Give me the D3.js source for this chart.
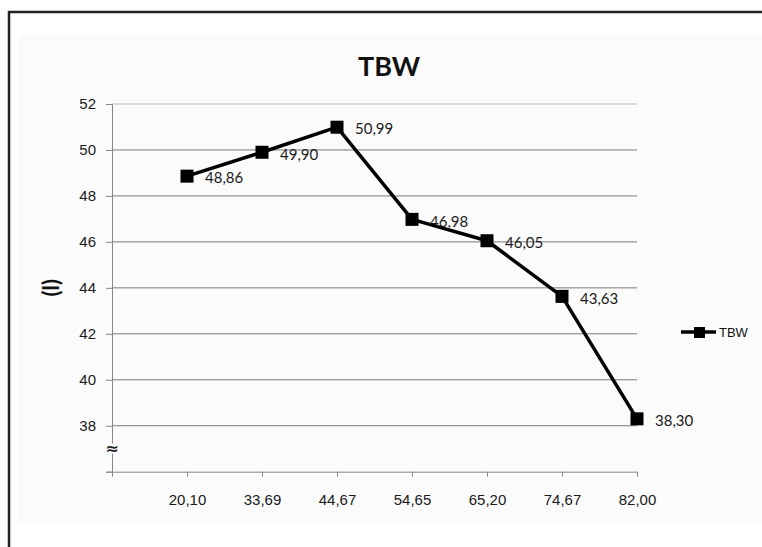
<!DOCTYPE html>
<html>
<head>
<meta charset="utf-8">
<script src="https://cdn.jsdelivr.net/npm/d3@7"></script>
<style>
  body { margin: 0; background: #fff; }
  svg { display: block; font-family: Lato, "Open Sans", sans-serif; }
</style>
</head>
<body>
<div id="chart"></div>
<script>
// Data
const xLabels = ["20,10", "33,69", "44,67", "54,65", "65,20", "74,67", "82,00"];
const tbw = [48.86, 49.90, 50.99, 46.98, 46.05, 43.63, 38.30];
const yTicks = [36, 38, 40, 42, 44, 46, 48, 50, 52];

const width = 762;
const height = 547;
const plot = { left: 112, right: 637, top: 104, bottom: 471.7 };

const svg = d3.select("#chart")
    .append("svg")
    .attr("width", width)
    .attr("height", height);

// outer frame and chart area
svg.append("rect")
    .attr("x", 18).attr("y", 34)
    .attr("width", width - 18).attr("height", 523 - 34)
    .attr("fill", "#fbfbfb");
svg.append("path")
    .attr("d", `M9,${height} V12 H${width}`)
    .attr("fill", "none")
    .attr("stroke", "#222")
    .attr("stroke-width", 2.5);

// scales
const xScale = d3.scaleLinear()
    .domain([0, xLabels.length])
    .range([plot.left, plot.right]);

const yScale = d3.scaleLinear()
    .domain([36, 52])
    .range([plot.bottom, plot.top]);

// horizontal grid lines
svg.append("g")
    .selectAll("line")
    .data(yTicks.filter(d => d > 36))
    .enter()
    .append("line")
    .attr("x1", plot.left)
    .attr("x2", plot.right)
    .attr("y1", d => yScale(d))
    .attr("y2", d => yScale(d))
    .attr("stroke", d => d === 52 ? "#bbb" : "#7a7a7a")
    .attr("stroke-width", 1);

// y axis
const yAxis = d3.axisLeft(yScale)
    .tickValues(yTicks)
    .tickSize(6)
    .tickPadding(10)
    .tickFormat(d => d === 36 ? "" : d);
const gy = svg.append("g")
    .attr("transform", `translate(${plot.left},0)`)
    .call(yAxis);
gy.select(".domain").attr("stroke", "#888");
gy.selectAll(".tick line").attr("stroke", "#888");
gy.selectAll("text")
    .style("font-size", "15px")
    .style("fill", "#1a1a1a");

// x axis
const xAxis = d3.axisBottom(xScale)
    .tickValues(d3.range(0, xLabels.length + 1))
    .tickSize(5)
    .tickSizeOuter(0)
    .tickPadding(18)
    .tickFormat(i => i === 0 ? "" : xLabels[i - 1]);
const gx = svg.append("g")
    .attr("transform", `translate(0,${plot.bottom})`)
    .call(xAxis);
gx.select(".domain").attr("stroke", "#888");
gx.selectAll(".tick line").attr("stroke", "#888");
gx.selectAll("text")
    .style("font-size", "15px")
    .style("fill", "#1a1a1a");

// axis break symbol
svg.append("rect")
    .attr("x", plot.left - 6)
    .attr("y", yScale(37) - 5)
    .attr("width", 12)
    .attr("height", 10)
    .attr("fill", "#fbfbfb");
svg.append("text")
    .attr("x", plot.left)
    .attr("y", yScale(37))
    .attr("dy", "0.35em")
    .style("text-anchor", "middle")
    .style("font-family", "'DejaVu Sans', sans-serif")
    .style("font-size", "16px")
    .style("font-weight", "bold")
    .style("fill", "#222")
    .text("≈");

// line
const lineGenerator = d3.line()
    .x((d, i) => xScale(i + 1))
    .y(d => yScale(d));

svg.append("path")
    .datum(tbw)
    .attr("d", lineGenerator)
    .attr("fill", "none")
    .attr("stroke", "#000")
    .attr("stroke-width", 3.5)
    .attr("stroke-linejoin", "round");

// markers
const m = 13;
svg.append("g")
    .selectAll("rect")
    .data(tbw)
    .enter()
    .append("rect")
    .attr("x", (d, i) => xScale(i + 1) - m / 2)
    .attr("y", d => yScale(d) - m / 2)
    .attr("width", m)
    .attr("height", m)
    .attr("fill", "#000");

// data labels
svg.append("g")
    .selectAll("text")
    .data(tbw)
    .enter()
    .append("text")
    .attr("x", (d, i) => xScale(i + 1) + 18)
    .attr("y", d => yScale(d) + 2)
    .attr("dy", "0.35em")
    .style("font-size", "15px")
    .style("fill", "#1a1a1a")
    .text(d => d.toFixed(2).replace(".", ","));

// title
svg.append("text")
    .attr("x", 389)
    .attr("y", 76)
    .style("text-anchor", "middle")
    .style("font-size", "27px")
    .style("font-weight", "bold")
    .style("fill", "#111")
    .text("TBW");

// y axis label
svg.append("text")
    .attr("transform", `translate(51,${yScale(44)}) rotate(-90)`)
    .attr("dy", "0.35em")
    .style("text-anchor", "middle")
    .style("font-size", "22px")
    .style("font-weight", "bold")
    .style("fill", "#111")
    .text("(l)");

// legend
const legend = svg.append("g")
    .attr("transform", "translate(681,332)");
legend.append("line")
    .attr("x1", 0).attr("x2", 35)
    .attr("y1", 0).attr("y2", 0)
    .attr("stroke", "#000")
    .attr("stroke-width", 3.5);
legend.append("rect")
    .attr("x", 13).attr("y", -5)
    .attr("width", 11).attr("height", 11)
    .attr("fill", "#000");
legend.append("text")
    .attr("x", 38)
    .attr("y", 0)
    .attr("dy", "0.35em")
    .style("font-family", "'Liberation Sans', Arial, sans-serif")
    .style("font-size", "13px")
    .style("fill", "#111")
    .text("TBW");
</script>
</body>
</html>
